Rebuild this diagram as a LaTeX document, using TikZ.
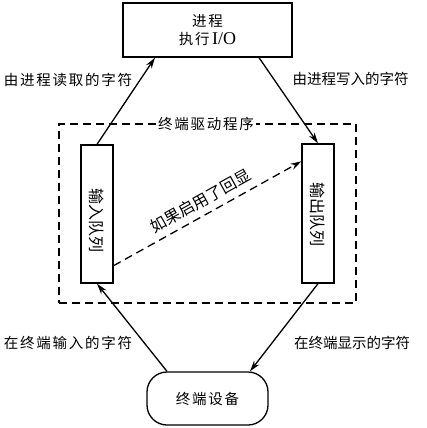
\documentclass[tikz,border=0pt]{standalone}
\usepackage{fontspec}
\setmainfont{Liberation Serif}
\newfontfamily\cjk{Noto Sans CJK SC}
\newfontfamily\cjkw{Noto Sans CJK SC}[LetterSpace=12]
\usetikzlibrary{arrows.meta,calc}
\begin{document}
\begin{tikzpicture}[x=1pt,y=-1pt,
  box/.style={draw,line width=1.3pt,inner sep=0pt},
  conn/.style={line width=1.3pt,-{Stealth[length=11pt,width=6.5pt]}},
  lbl/.style={font=\fontsize{14.5}{17}\cjkw},
  lbln/.style={font=\fontsize{14.5}{17}\cjk},
  lblr/.style={font=\fontsize{16}{18}\cjk},
  dsh/.style={dash pattern=on 8pt off 5pt}]
\useasboundingbox (0,0) rectangle (427,428);
\node[box,minimum width=169pt,minimum height=54pt,align=center,font=\fontsize{14.5}{19}\selectfont] (proc) at (207.5,30)
  {{\cjkw 进程}\\[-1pt]{\cjkw 执行}\,\fontsize{18}{19}\selectfont I/O};
\node[draw,line width=1.3pt,dsh,minimum width=297pt,minimum height=179pt,inner sep=0pt] (drv) at (207.5,213.5) {};
\node[fill=white,inner sep=2pt,lbl] (drvt) at (206,124) {终端驱动程序};
\node[box,minimum width=32pt,minimum height=138pt] (inq) at (97,214) {};
\node[lblr,rotate=-90] (inqt) at (97,220) {输入队列};
\node[box,minimum width=32pt,minimum height=139pt] (outq) at (318,213.5) {};
\node[lblr,rotate=-90] (outqt) at (318,214) {输出队列};
\node[box,rounded corners=20pt,minimum width=121pt,minimum height=53pt,lbl] (term) at (207.5,398.5) {终端设备};
\draw[conn] (inq.north) -- ([xshift=-52.5pt]proc.south);
\draw[conn] ([xshift=51.5pt]proc.south) -- (outq.north);
\draw[conn,dsh] ([yshift=18pt]inq.south east) -- node[sloped,above=3pt,lblr] (echo) {如果启用了回显} ([yshift=-18pt]outq.north west);
\draw[conn] ([xshift=-40.5pt]term.north) -- (inq.south);
\draw[conn] (outq.south) -- ([xshift=42.5pt]term.north);
\node[lbl] (l1) at (68,80) {由进程读取的字符};
\node[lbln] (l2) at (350.5,79) {由进程写入的字符};
\node[lbl] (l3) at (68,343) {在终端输入的字符};
\node[lbln] (l4) at (352,343) {在终端显示的字符};
\end{tikzpicture}
\end{document}
